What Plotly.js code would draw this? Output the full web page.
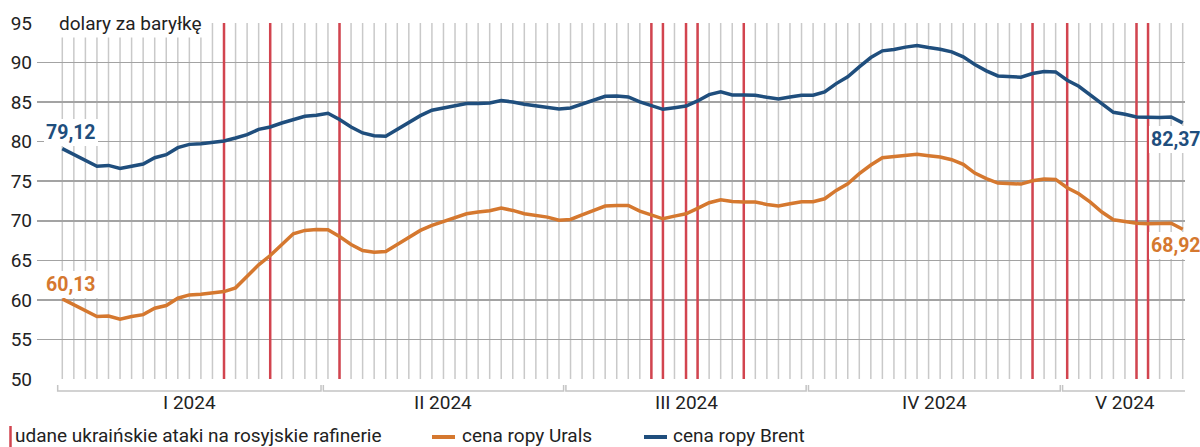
<!DOCTYPE html>
<html><head><meta charset="utf-8">
<script src="https://cdn.plot.ly/plotly-3.0.1.min.js"></script>
<style>html,body{margin:0;padding:0;background:#fff}#chart{width:1200px;height:447px}</style>
</head><body><div id="chart"></div>
<script>
// trading days (weekdays) 2024-01-01 .. 2024-05-15
const dates = (function(){const out=[];const d=new Date(Date.UTC(2024,0,1));const end=new Date(Date.UTC(2024,4,15));
  while(d<=end){const w=d.getUTCDay();if(w!==0&&w!==6)out.push(d.toISOString().slice(0,10));d.setUTCDate(d.getUTCDate()+1);}return out;})();

const urals = [60.13,59.37,58.6,57.89,57.97,57.55,57.89,58.14,58.95,59.28,
  60.21,60.63,60.72,60.89,61.05,61.52,62.95,64.43,65.61,66.96,
  68.35,68.78,68.9,68.86,68.0,67.0,66.24,66.03,66.12,67.0,
  67.93,68.78,69.41,69.92,70.38,70.89,71.1,71.27,71.6,71.31,
  70.89,70.68,70.46,70.08,70.17,70.76,71.31,71.86,71.94,71.94,
  71.22,70.68,70.25,70.59,70.89,71.56,72.28,72.66,72.45,72.36,
  72.36,72.07,71.86,72.15,72.41,72.41,72.78,73.84,74.68,75.95,
  77.05,77.97,78.1,78.31,78.4,78.23,78.06,77.72,77.13,76.03,
  75.32,74.77,74.68,74.64,75.06,75.27,75.23,74.18,73.42,72.36,
  71.1,70.13,69.92,69.7,69.62,69.62,69.7,68.92];

const brent = [79.12,78.4,77.64,76.9,77.0,76.6,76.9,77.17,77.97,78.35,
  79.24,79.66,79.75,79.92,80.08,80.46,80.89,81.56,81.86,82.36,
  82.83,83.2,83.33,83.59,82.8,81.86,81.1,80.76,80.68,81.52,
  82.45,83.29,83.97,84.26,84.51,84.81,84.81,84.9,85.19,85.02,
  84.73,84.51,84.39,84.14,84.26,84.77,85.23,85.74,85.78,85.65,
  85.02,84.56,84.09,84.3,84.51,85.15,85.95,86.29,85.91,85.91,
  85.87,85.61,85.4,85.65,85.87,85.87,86.29,87.34,88.19,89.45,
  90.63,91.48,91.65,91.95,92.15,91.9,91.69,91.35,90.72,89.75,
  88.95,88.31,88.19,88.14,88.61,88.86,88.82,87.76,87.0,85.87,
  84.73,83.71,83.46,83.12,83.08,83.04,83.12,82.37];

const attackDates = ['2024-01-19','2024-01-25','2024-02-02','2024-03-12','2024-03-13',
  '2024-03-15','2024-03-18','2024-03-22','2024-04-26','2024-05-01','2024-05-09','2024-05-10'];

const monthLabels = ['I 2024','II 2024','III 2024','IV 2024','V 2024'];
const yTicks = [50,55,60,65,70,75,80,85,90,95];
const unitLabel = 'dolary za baryłkę';
const legendAttacks = 'udane ukraińskie ataki na rosyjskie rafinerie';
const nameUrals = 'cena ropy Urals';
const nameBrent = 'cena ropy Brent';

const BLUE = '#1f4e7d', ORANGE = '#d5782f', RED = '#d2444f', TXT = '#222222';
const FONT = 'Roboto, "Open Sans", sans-serif';
const FS = 19;
const L = 37, T = 23, W = 1148, H = 356;
const px2x = p => (p - L) / W;
const py2y = p => 1 - (p - T) / H;
const idx = dates.map((d, i) => i);
const fmt = v => v.toFixed(2).replace('.', ',');

const shapes = [];
const annotations = [];

// vertical light grid at every trading day
idx.forEach(i => shapes.push({type:'line', xref:'x', yref:'y', x0:i, x1:i, y0:50, y1:95,
  line:{color:'#c9c9c9', width:1.5}, layer:'below'}));

// attack lines
attackDates.forEach(d => { const i = dates.indexOf(d); if (i < 0) return;
  shapes.push({type:'line', xref:'x', yref:'y', x0:i, x1:i, y0:50, y1:95,
    line:{color:RED, width:2.5}, layer:'between'}); });

// month brackets and labels
const groups = [];
dates.forEach((d, i) => { const m = +d.slice(5,7) - 1;
  if (!groups[m]) groups[m] = {first:i, last:i}; else groups[m].last = i; });
const yb = py2y(391), yt = py2y(385);
groups.forEach((g, m) => {
  const a = g.first - 0.4, b = g.last + 0.4;
  shapes.push({type:'path', xref:'x', yref:'paper',
    path:`M ${a} ${yt} L ${a} ${yb} L ${b} ${yb} L ${b} ${yt}`,
    line:{color:'#c4c4c4', width:1.5}});
  annotations.push({xref:'x', yref:'paper', x:(g.first + g.last)/2, y:py2y(402),
    text:monthLabels[m], showarrow:false, xanchor:'center', yanchor:'middle',
    font:{family:FONT, size:FS, color:TXT}});
});

// unit label
annotations.push({xref:'x', yref:'y', x:0, y:95, xshift:-6, yshift:0, text:unitLabel, showarrow:false,
  xanchor:'left', yanchor:'middle', bgcolor:'#ffffff', borderpad:2,
  font:{family:FONT, size:FS, color:TXT}});

// value labels
const n = dates.length - 1;
const VF = 19.5;
const valLabel = (x, y, v, dx, dy, color) => ({xref:'x', yref:'y', x, y, xshift:dx, yshift:dy, text:fmt(v),
  showarrow:false, bgcolor:'#fff', borderpad:2, borderwidth:0, font:{family:FONT, size:VF, color, weight:700}});
annotations.push(valLabel(0, brent[0], brent[0], 9, 16, BLUE));
annotations.push(valLabel(0, urals[0], urals[0], 9, 14, ORANGE));
annotations.push(valLabel(n, brent[n], brent[n], -6.5, -17, BLUE));
annotations.push(valLabel(n, urals[n], urals[n], -6.5, -16, ORANGE));

// custom legend
const ly = py2y(435.5);
const legText = (p, t) => ({xref:'paper', yref:'paper', x:px2x(p), y:ly, text:t, showarrow:false,
  xanchor:'left', yanchor:'middle', borderpad:0, borderwidth:0, font:{family:FONT, size:FS, color:TXT}});
shapes.push({type:'line', xref:'paper', yref:'paper', x0:px2x(10.5), x1:px2x(10.5), y0:py2y(426), y1:py2y(447),
  line:{color:RED, width:2.5}});
annotations.push(legText(15, legendAttacks));
shapes.push({type:'line', xref:'paper', yref:'paper', x0:px2x(432), x1:px2x(455), y0:py2y(437), y1:py2y(437),
  line:{color:ORANGE, width:4}});
annotations.push(legText(461.5, nameUrals));
shapes.push({type:'line', xref:'paper', yref:'paper', x0:px2x(644), x1:px2x(667), y0:py2y(437), y1:py2y(437),
  line:{color:BLUE, width:4}});
annotations.push(legText(673, nameBrent));

const traces = [
  {x:idx, y:urals, type:'scatter', mode:'lines', name:nameUrals, line:{color:ORANGE, width:3.5}, hoverinfo:'skip'},
  {x:idx, y:brent, type:'scatter', mode:'lines', name:nameBrent, line:{color:BLUE, width:3.5}, hoverinfo:'skip'}
];

const xmin = -(62.3 - L) / 11.55, xmax = n + (1185 - 1182.7) / 11.55;
const layout = {
  width:1200, height:447, margin:{l:L, r:1200-L-W, t:T, b:447-T-H},
  paper_bgcolor:'#fff', plot_bgcolor:'#fff', showlegend:false,
  font:{family:FONT, size:FS, color:TXT},
  xaxis:{type:'linear', range:[xmin, xmax], showgrid:false, zeroline:false, showticklabels:false, ticks:'', fixedrange:true},
  yaxis:{range:[50,95], tickvals:yTicks, ticktext:yTicks.map(String), showgrid:true, gridcolor:'#a3a3a3', gridwidth:1.5,
    zeroline:false, ticks:'', ticklabelstandoff:4, tickfont:{family:FONT, size:FS, color:TXT}, fixedrange:true},
  shapes, annotations
};
Plotly.newPlot('chart', traces, layout, {displayModeBar:false, staticPlot:true});
</script></body></html>
